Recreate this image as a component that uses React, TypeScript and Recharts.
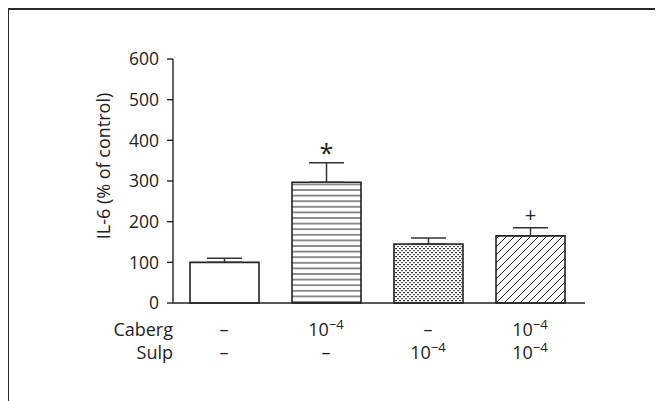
import React from 'react';
import { BarChart, Bar, XAxis, YAxis, Cell, ErrorBar, LabelList } from 'recharts';

const groups = ['Control', 'Caberg', 'Sulp', 'Caberg + Sulp'];
const il6 = [100, 297, 145, 165];
const sem = [10, 48, 15, 20];
// exponent of the 10^x molar dose, null = not added
const cabergDose = [null, -4, null, -4];
const sulpDose = [null, null, -4, -4];
const marks = ['', '*', '', '+'];
const yTicks = [0, 100, 200, 300, 400, 500, 600];

const fills = ['#fff', 'url(#hLines)', 'url(#dots)', 'url(#diag)'];

const data = groups.map((g, i) => ({
  group: g,
  il6: il6[i],
  err: [0, sem[i]],
  mark: marks[i],
}));

const FONT = '"Open Sans", sans-serif';
const ink = '#222';

const Dose = ({ x, y, exp }: { x: number; y: number; exp: number | null }) => {
  if (exp === null) {
    return (
      <text x={x} y={y} textAnchor="middle" fontSize={18} fontFamily={FONT} fill={ink}>
        –
      </text>
    );
  }
  return (
    <text x={x} y={y} textAnchor="middle" fontSize={18} fontFamily={FONT} fill={ink}>
      10
      <tspan fontSize={13} dy={-7}>
        {'\u2212' + Math.abs(exp)}
      </tspan>
    </text>
  );
};

const DoseTick = (props: any) => {
  const { x, y, payload } = props;
  const i = payload.index;
  return (
    <g>
      <Dose x={x} y={y + 33} exp={cabergDose[i]} />
      <Dose x={x} y={y + 56} exp={sulpDose[i]} />
    </g>
  );
};

const RowNames = (props: any) => {
  const { x, y } = props.viewBox;
  return (
    <g fontSize={18} fontFamily={FONT} fill={ink} textAnchor="end">
      <text x={x} y={y + 33}>Caberg</text>
      <text x={x} y={y + 56}>Sulp</text>
    </g>
  );
};

const SigMark = (props: any) => {
  const { x, y, width, height, index, value } = props;
  if (!value) return null;
  const perUnit = height / il6[index];
  const top = y - sem[index] * perUnit;
  // asterisk sits high in its em box, so it needs less lift
  const big = value === '*';
  return (
    <text
      x={x + width / 2}
      y={big ? top - 1 : top - 6}
      textAnchor="middle"
      fontSize={big ? 25 : 20}
      fontFamily={FONT}
      fill={ink}
    >
      {value}
    </text>
  );
};

const YTitle = () => {
  const cx = 96;
  const cy = 158;
  return (
    <text
      x={cx}
      y={cy}
      transform={`rotate(-90 ${cx} ${cy})`}
      textAnchor="middle"
      dominantBaseline="central"
      fontSize={18}
      fontFamily={FONT}
      fill={ink}
    >
      IL-6 (% of control)
    </text>
  );
};

export default function App() {
  return (
    <div
      style={{
        position: 'relative',
        width: 656,
        height: 393,
        marginLeft: -1,
        boxSizing: 'border-box',
        borderTop: '2px solid #2a2a2a',
        borderLeft: '2px solid #2a2a2a',
        background: '#fff',
      }}
    >
      <div style={{ position: 'absolute', left: -2, top: -2 }}>
        <BarChart width={656} height={393} data={data} margin={{ top: 51, right: 78, bottom: 0, left: 0 }}>
          <defs>
            <pattern id="hLines" patternUnits="userSpaceOnUse" width={8} height={5.6}>
              <rect width={8} height={5.6} fill="#fff" />
              <line x1={0} y1={2.8} x2={8} y2={2.8} stroke="#222" strokeWidth={1} />
            </pattern>
            <pattern id="dots" patternUnits="userSpaceOnUse" width={4} height={4}>
              <rect width={4} height={4} fill="#fff" />
              <rect x={0} y={0} width={2} height={1.2} fill="#333" />
              <rect x={2} y={2} width={2} height={1.2} fill="#555" />
            </pattern>
            <pattern id="diag" patternUnits="userSpaceOnUse" width={8} height={8}>
              <rect width={8} height={8} fill="#fff" />
              <path d="M0,8 L8,0 M-2,2 L2,-2 M6,10 L10,6" stroke="#222" strokeWidth={1} />
            </pattern>
          </defs>
          <XAxis
            dataKey="group"
            height={98}
            axisLine={{ stroke: '#222', strokeWidth: 1.4 }}
            tickLine={false}
            tickSize={0}
            tickMargin={0}
            padding={{ left: 0, right: 4 }}
            tick={<DoseTick />}
            interval={0}
            label={<RowNames />}
          />
          <YAxis
            width={166}
            domain={[0, 600]}
            ticks={yTicks}
            interval={0}
            tickSize={6}
            tickMargin={8}
            axisLine={{ stroke: '#222', strokeWidth: 1.4 }}
            tickLine={{ stroke: '#222', strokeWidth: 1.4 }}
            tick={{ fontSize: 17.5, fontFamily: FONT, fill: ink }}
            label={<YTitle />}
          />
          <Bar dataKey="il6" barSize={69} stroke={ink} strokeWidth={1.6} isAnimationActive={false}>
            {data.map((d, i) => (
              <Cell key={d.group} fill={fills[i]} />
            ))}
            <ErrorBar dataKey="err" width={17.5} stroke="#333" strokeWidth={1.5} isAnimationActive={false} />
            <LabelList dataKey="mark" content={<SigMark />} />
          </Bar>
        </BarChart>
      </div>
    </div>
  );
}
